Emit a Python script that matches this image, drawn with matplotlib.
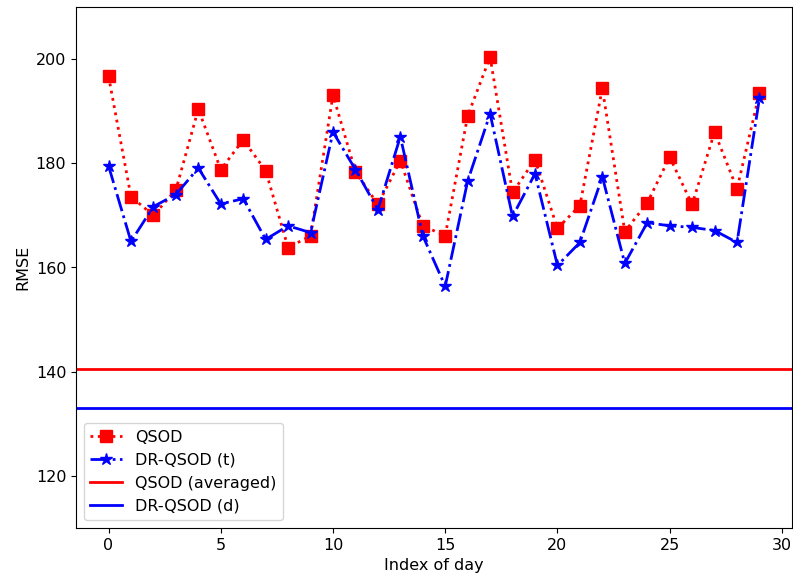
import matplotlib
matplotlib.use("Agg")
import matplotlib.pyplot as plt
import numpy as np

# RMSE per day
days = np.arange(30)
qsod = [196.7, 173.6, 170.0, 174.9, 190.4, 178.8, 184.5, 178.6, 163.8, 166.1,
        193.1, 178.4, 172.1, 180.5, 168.0, 166.1, 189.1, 200.4, 174.4, 180.7,
        167.5, 171.9, 194.4, 166.9, 172.4, 181.2, 172.1, 186.0, 175.1, 193.5]
dr_qsod_t = [179.5, 165.0, 171.7, 174.0, 179.1, 172.2, 173.2, 165.4, 168.0, 166.7,
             186.0, 178.8, 171.1, 185.1, 166.1, 156.4, 176.6, 189.5, 169.8, 178.0,
             160.4, 164.8, 177.4, 160.8, 168.6, 168.0, 167.7, 167.1, 164.8, 192.5]
qsod_avg = 140.5
dr_qsod_d = 133.1

fig = plt.figure(figsize=(7.93, 5.81), dpi=100)
ax = fig.add_axes([76 / 793, 1 - 528 / 581, 716 / 793, 521 / 581])

ax.plot(days, qsod, 'rs:', linewidth=2, markersize=9, label='QSOD')
ax.plot(days, dr_qsod_t, 'b*-.', linewidth=2, markersize=9, label='DR-QSOD (t)')
ax.axhline(qsod_avg, color='r', linewidth=2, label='QSOD (averaged)')
ax.axhline(dr_qsod_d, color='b', linewidth=2, label='DR-QSOD (d)')

ax.set_ylim(110, 210)
ax.set_yticks([120, 140, 160, 180, 200])
ax.set_xlabel('Index of day', fontsize=11.5)
ax.set_ylabel('RMSE', fontsize=11.5)
ax.tick_params(labelsize=11.5)
ax.legend(loc='lower left', fontsize=11.5)

fig.savefig('out.png', dpi=100)
